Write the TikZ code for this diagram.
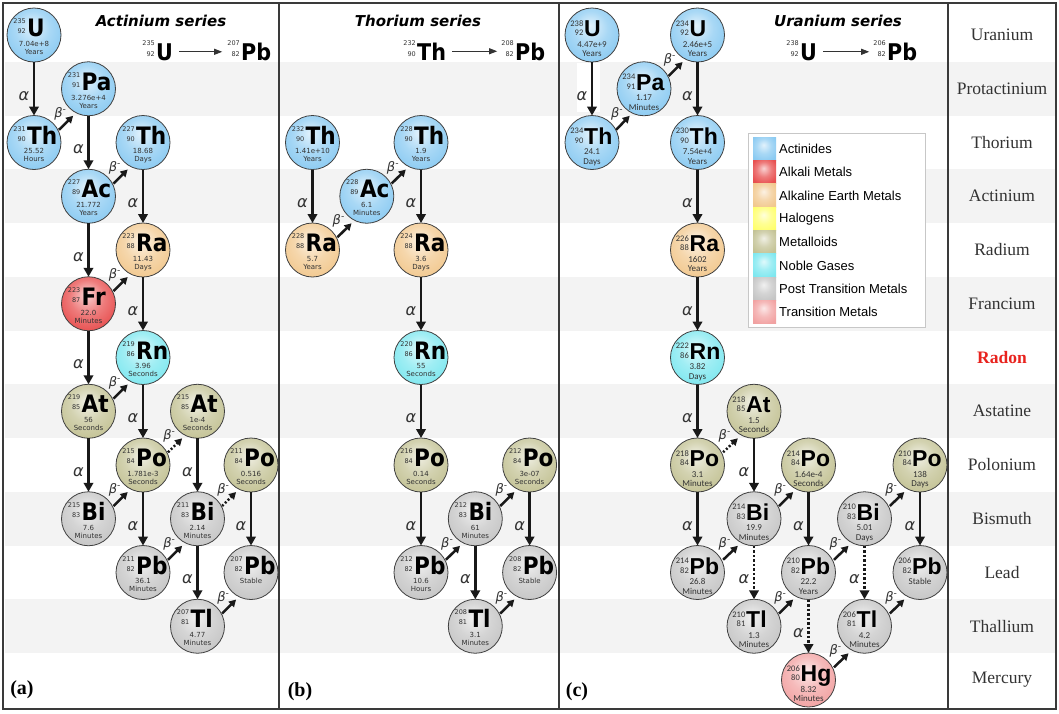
\documentclass[tikz,border=0pt]{standalone}
\usepackage{fontspec}
\usetikzlibrary{arrows.meta,calc}
\newfontfamily\dvs{DejaVu Sans}
\newfontfamily\dvsym{DejaVu Sans}[FakeStretch=0.9]
\newfontfamily\lsans{Liberation Sans}
\newfontfamily\lserif{Liberation Serif}
\newfontfamily\carl{Carlito}

\definecolor{actin}{HTML}{8CCBF2}
\definecolor{alkali}{HTML}{E85050}
\definecolor{alkearth}{HTML}{F2C990}
\definecolor{halogen}{HTML}{FFFF70}
\definecolor{metalloid}{HTML}{C4C396}
\definecolor{noble}{HTML}{80E8F0}
\definecolor{post}{HTML}{C6C6C6}
\definecolor{trans}{HTML}{F2A3A3}
\definecolor{band}{HTML}{F3F3F3}
\definecolor{framecol}{HTML}{3A3A3A}
\definecolor{txt}{HTML}{333333}
\definecolor{radred}{HTML}{E8231E}

\newcommand\mkball[1]{\pgfdeclareradialshading{ball#1}{\pgfpoint{-2bp}{9bp}}{color(0bp)=(#1!25!white); color(16bp)=(#1!75!white); color(30bp)=(#1); color(50bp)=(#1!95!black)}}
\mkball{actin}\mkball{alkali}\mkball{alkearth}\mkball{halogen}
\mkball{metalloid}\mkball{noble}\mkball{post}\mkball{trans}

\newcommand\elSX{-7}
\newcommand\elNX{-8}
\newcommand\elMY{-11.5}
\newcommand\elZY{-1.5}
\newcommand\elHY{9.5}
\newcommand\elUY{17.5}

\newcommand\elem[9]{%
  \node[elemc, shading=ball#2] (#1) at (#3,#4) {};
  \node[symf, anchor=base west] (#1s) at ($(#1)+(\elSX,1.5)$) {#7};
  \node[numf, anchor=base east] (#1z) at ($(#1)+(\elNX,\elZY)$) {#6};
  \node[numf, anchor=base east] (#1m) at ($(#1)+(\elNX,\elMY)$) {#5};
  \node[hlf] (#1h) at ($(#1)+(0,\elHY)$) {#8};
  \node[hlf] (#1u) at ($(#1)+(0,\elUY)$) {#9};
}
\newcommand\aarr[3][alph]{\draw[#1] (#2.south) -- (#3.north) node[alab, midway, xshift=-10pt, yshift=-7pt] (#2#3a) {α};}
\newcommand\barr[3][bet]{\draw[#1] ($(#2)!0.33!(#3)+(7,5)$) -- ($(#2)!0.59!(#3)+(7,5)$) node[blab, midway, xshift=-6pt, yshift=9pt] (#2#3b) {β\raisebox{5pt}{\fontsize{9}{9}\selectfont -}};}

\begin{document}
\begin{tikzpicture}[x=1pt,y=-1pt,
  elemc/.style={circle, minimum size=54pt, inner sep=0pt, outer sep=0pt, draw=black!75, line width=0.8pt, shade},
  symf/.style={font=\dvsym\bfseries\fontsize{24}{24}\selectfont, inner sep=0pt},
  numf/.style={font=\dvs\fontsize{6.5}{7}\selectfont, inner sep=0pt, text=txt},
  hlf/.style={font=\dvs\fontsize{7}{8}\selectfont, inner sep=0pt, text=txt, text height=5pt, text depth=1.5pt},
  alph/.style={line width=2.6pt, draw=black!90, -{Triangle[width=9.5pt,length=9pt]}},
  alphd/.style={alph, dash pattern=on 2.5pt off 2pt},
  alab/.style={font=\dvs\itshape\fontsize{16}{16}\selectfont, inner sep=0pt, text=black!80},
  bet/.style={line width=2.5pt, draw=black!90, -{Triangle[width=7.5pt,length=7pt]}},
  betd/.style={bet, dash pattern=on 2pt off 2pt},
  blab/.style={font=\dvs\itshape\fontsize{13}{13}\selectfont, inner sep=0pt, text=black!80},
  framel/.style={draw=framecol, line width=1.5pt},
  title/.style={font=\dvs\bfseries\itshape\fontsize{15}{15}\selectfont, inner sep=0pt},
  fsym/.style={font=\dvsym\bfseries\fontsize{23}{23}\selectfont, inner sep=0pt},
  fnum/.style={font=\dvs\fontsize{6.5}{7}\selectfont, inner sep=0pt, text=txt},
  farrow/.style={draw=txt, line width=0.9pt, -{Triangle[width=6pt,length=8pt]}},
  rowlab/.style={font=\lserif\fontsize{17.5}{17.5}\selectfont, text=txt, inner sep=0pt},
  plab/.style={font=\lserif\bfseries\fontsize{20}{20}\selectfont, inner sep=0pt},
  swatch/.style={rectangle, minimum width=23pt, minimum height=23.3pt, inner sep=0pt, shade},
  legtext/.style={font=\lsans\fontsize{13}{13}\selectfont, inner sep=0pt, anchor=west}
]
\useasboundingbox (0,0) rectangle (1059,713);
\fill[white] (0,0) rectangle (1059,713);
\foreach \i in {1,3,5,7,9,11}
  \fill[band] (4.5,{35+53.75*\i-26.875}) rectangle (1055,{35+53.75*\i+26.875});
\fill[white] (577,63) rectangle (600,112);
\draw[framel] (3,3) rectangle (1056,709);
\draw[framel] (279,3) -- (279,709);
\draw[framel] (559,3) -- (559,709);
\draw[framel] (948,3) -- (948,709);

% row labels
\node[rowlab] (l0) at (1002,35) {Uranium};
\node[rowlab] (l1) at (1002,88.75) {Protactinium};
\node[rowlab] (l2) at (1002,142.5) {Thorium};
\node[rowlab] (l3) at (1002,196.25) {Actinium};
\node[rowlab] (l4) at (1002,250) {Radium};
\node[rowlab] (l5) at (1002,303.75) {Francium};
\node[rowlab, font=\lserif\bfseries\fontsize{17.5}{17.5}\selectfont, text=radred] (l6) at (1002,357.5) {Radon};
\node[rowlab] (l7) at (1002,411.25) {Astatine};
\node[rowlab] (l8) at (1002,465) {Polonium};
\node[rowlab] (l9) at (1002,518.75) {Bismuth};
\node[rowlab] (l10) at (1002,572.5) {Lead};
\node[rowlab] (l11) at (1002,626.25) {Thallium};
\node[rowlab] (l12) at (1002,680) {Mercury};

% panel labels
\node[plab] (pa) at (22,690) {(a)};
\node[plab] (pb) at (300,692) {(b)};
\node[plab] (pc) at (577,692) {(c)};

% titles and overall decays
\node[title] (ta) at (161,21) {Actinium series};
\node[title] (tb) at (418,21) {Thorium series};
\node[title] (tc) at (838,21) {Uranium series};

\node[fsym, anchor=base west] (aF1s) at (156,60) {U};
\node[fnum, anchor=base east] (aF1z) at (155,56) {92};
\node[fnum, anchor=base east] (aF1m) at (155,45) {235};
\node[fsym, anchor=base west] (aF2s) at (241,60) {Pb};
\node[fnum, anchor=base east] (aF2z) at (240,56) {82};
\node[fnum, anchor=base east] (aF2m) at (240,45) {207};
\draw[farrow, shorten <=6pt, shorten >=5pt] (aF1s.east) -- (aF1s.east -| aF2m.west);

\node[fsym, anchor=base west] (bF1s) at (417,60) {Th};
\node[fnum, anchor=base east] (bF1z) at (416,56) {90};
\node[fnum, anchor=base east] (bF1m) at (416,45) {232};
\node[fsym, anchor=base west] (bF2s) at (515,60) {Pb};
\node[fnum, anchor=base east] (bF2z) at (514,56) {82};
\node[fnum, anchor=base east] (bF2m) at (514,45) {208};
\draw[farrow, shorten <=6pt, shorten >=4pt] (bF1s.east) -- (bF1s.east -| bF2m.west);

\node[fsym, anchor=base west] (cF1s) at (800,60) {U};
\node[fnum, anchor=base east] (cF1z) at (799,56) {92};
\node[fnum, anchor=base east] (cF1m) at (799,45) {238};
\node[fsym, anchor=base west] (cF2s) at (887,60) {Pb};
\node[fnum, anchor=base east] (cF2z) at (886,56) {82};
\node[fnum, anchor=base east] (cF2m) at (886,45) {206};
\draw[farrow, shorten <=6pt, shorten >=4pt] (cF1s.east) -- (cF1s.east -| cF2m.west);

% legend
\node[draw=black!22, line width=0.8pt, fill=white, minimum width=177pt, minimum height=194pt, inner sep=0pt, anchor=north west] (legbox) at (748,133) {};
\foreach \c/\t [count=\k from 0] in {actin/Actinides, alkali/Alkali Metals, alkearth/Alkaline Earth Metals, halogen/Halogens, metalloid/Metalloids, noble/Noble Gases, post/Post Transition Metals, trans/Transition Metals}{
  \node[swatch, shading=ball\c] (sw\k) at (764.5,{149+23.3*\k}) {};
  \node[legtext] (lt\k) at (779,{149+23.3*\k}) {\t};
}

% ---------- panel (a)
\elem{aUa}{actin}{34}{35}{235}{92}{U}{7.04e+8}{Years}
\elem{aPa}{actin}{88.5}{88.75}{231}{91}{Pa}{3.276e+4}{Years}
\elem{aTha}{actin}{34}{142.5}{231}{90}{Th}{25.52}{Hours}
\elem{aThb}{actin}{143}{142.5}{227}{90}{Th}{18.68}{Days}
\elem{aAc}{actin}{88.5}{196.25}{227}{89}{Ac}{21.772}{Years}
\elem{aRa}{alkearth}{143}{250}{223}{88}{Ra}{11.43}{Days}
\elem{aFr}{alkali}{88.5}{303.75}{223}{87}{Fr}{22.0}{Minutes}
\elem{aRn}{noble}{143}{357.5}{219}{86}{Rn}{3.96}{Seconds}
\elem{aAta}{metalloid}{88.5}{411.25}{219}{85}{At}{56}{Seconds}
\elem{aAtb}{metalloid}{197.5}{411.25}{215}{85}{At}{1e-4}{Seconds}
\elem{aPoa}{metalloid}{143}{465}{215}{84}{Po}{1.781e-3}{Seconds}
\elem{aPob}{metalloid}{251}{465}{211}{84}{Po}{0.516}{Seconds}
\elem{aBia}{post}{88.5}{518.75}{215}{83}{Bi}{7.6}{Minutes}
\elem{aBib}{post}{197.5}{518.75}{211}{83}{Bi}{2.14}{Minutes}
\elem{aPba}{post}{143}{572.5}{211}{82}{Pb}{36.1}{Minutes}
\elem{aPbb}{post}{251}{572.5}{207}{82}{Pb}{Stable}{}
\elem{aTl}{post}{197.5}{626.25}{207}{81}{Tl}{4.77}{Minutes}

\aarr{aUa}{aTha}
\aarr{aPa}{aAc}
\aarr{aThb}{aRa}
\aarr{aAc}{aFr}
\aarr{aRa}{aRn}
\aarr{aFr}{aAta}
\aarr{aRn}{aPoa}
\aarr{aAta}{aBia}
\aarr{aAtb}{aBib}
\aarr{aPoa}{aPba}
\aarr{aPob}{aPbb}
\aarr{aBib}{aTl}
\barr{aTha}{aPa}
\barr{aAc}{aThb}
\barr{aFr}{aRa}
\barr{aAta}{aRn}
\barr[betd]{aPoa}{aAtb}
\barr{aBia}{aPoa}
\barr{aPba}{aBib}
\barr[betd]{aBib}{aPob}
\barr{aTl}{aPbb}

% ---------- panel (b)
\elem{bTha}{actin}{312.5}{142.5}{232}{90}{Th}{1.41e+10}{Years}
\elem{bRaa}{alkearth}{312.5}{250}{228}{88}{Ra}{5.7}{Years}
\elem{bAc}{actin}{366.8}{196.25}{228}{89}{Ac}{6.1}{Minutes}
\elem{bThb}{actin}{421}{142.5}{228}{90}{Th}{1.9}{Years}
\elem{bRab}{alkearth}{421}{250}{224}{88}{Ra}{3.6}{Days}
\elem{bRn}{noble}{421}{357.5}{220}{86}{Rn}{55}{Seconds}
\elem{bPoa}{metalloid}{421}{465}{216}{84}{Po}{0.14}{Seconds}
\elem{bPba}{post}{421}{572.5}{212}{82}{Pb}{10.6}{Hours}
\elem{bBi}{post}{475.3}{518.75}{212}{83}{Bi}{61}{Minutes}
\elem{bPob}{metalloid}{529.6}{465}{212}{84}{Po}{3e-07}{Seconds}
\elem{bPbb}{post}{529.6}{572.5}{208}{82}{Pb}{Stable}{}
\elem{bTl}{post}{475.3}{626.25}{208}{81}{Tl}{3.1}{Minutes}

\aarr{bTha}{bRaa}
\aarr{bThb}{bRab}
\aarr{bRab}{bRn}
\aarr{bRn}{bPoa}
\aarr{bPoa}{bPba}
\aarr{bBi}{bTl}
\aarr{bPob}{bPbb}
\barr{bRaa}{bAc}
\barr{bAc}{bThb}
\barr{bPba}{bBi}
\barr{bBi}{bPob}
\barr{bTl}{bPbb}

% ---------- panel (c)
\tikzset{
  symf/.style={font=\lsans\bfseries\fontsize{23}{23}\selectfont, inner sep=0pt},
  numf/.style={font=\carl\fontsize{8.5}{8.5}\selectfont, inner sep=0pt, text=txt},
  hlf/.style={font=\carl\fontsize{9}{9}\selectfont, inner sep=0pt, text=txt, text height=6pt, text depth=1.8pt}
}
\renewcommand\elSX{-8}
\renewcommand\elNX{-8.5}
\renewcommand\elMY{-9}
\renewcommand\elZY{0.5}
\renewcommand\elHY{10}
\renewcommand\elUY{19.5}

\elem{cUa}{actin}{592}{35}{238}{92}{U}{4.47e+9}{Years}
\elem{cTha}{actin}{592}{142.5}{234}{90}{Th}{24.1}{Days}
\elem{cPa}{actin}{644}{88.75}{234}{91}{Pa}{1.17}{Minutes}
\elem{cUb}{actin}{697.5}{35}{234}{92}{U}{2.46e+5}{Years}
\elem{cThb}{actin}{697.5}{142.5}{230}{90}{Th}{7.54e+4}{Years}
\elem{cRa}{alkearth}{697.5}{250}{226}{88}{Ra}{1602}{Years}
\elem{cRn}{noble}{697.5}{357.5}{222}{86}{Rn}{3.82}{Days}
\elem{cPoa}{metalloid}{697.5}{465}{218}{84}{Po}{3.1}{Minutes}
\elem{cAt}{metalloid}{754}{411.25}{218}{85}{At}{1.5}{Seconds}
\elem{cPba}{post}{697.5}{572.5}{214}{82}{Pb}{26.8}{Minutes}
\elem{cBia}{post}{754}{518.75}{214}{83}{Bi}{19.9}{Minutes}
\elem{cPob}{metalloid}{808.5}{465}{214}{84}{Po}{1.64e-4}{Seconds}
\elem{cTla}{post}{754}{626.25}{210}{81}{Tl}{1.3}{Minutes}
\elem{cPbb}{post}{808.5}{572.5}{210}{82}{Pb}{22.2}{Years}
\elem{cHg}{trans}{808.5}{680}{206}{80}{Hg}{8.32}{Minutes}
\elem{cBib}{post}{864.5}{518.75}{210}{83}{Bi}{5.01}{Days}
\elem{cTlb}{post}{864.5}{626.25}{206}{81}{Tl}{4.2}{Minutes}
\elem{cPoc}{metalloid}{920}{465}{210}{84}{Po}{138}{Days}
\elem{cPbc}{post}{920}{572.5}{206}{82}{Pb}{Stable}{}

\aarr{cUa}{cTha}
\aarr{cUb}{cThb}
\aarr{cThb}{cRa}
\aarr{cRa}{cRn}
\aarr{cRn}{cPoa}
\aarr{cPoa}{cPba}
\aarr{cAt}{cBia}
\aarr[alphd]{cBia}{cTla}
\aarr{cPob}{cPbb}
\aarr[alphd]{cPbb}{cHg}
\aarr[alphd]{cBib}{cTlb}
\aarr{cPoc}{cPbc}
\barr{cTha}{cPa}
\barr{cPa}{cUb}
\barr[betd]{cPoa}{cAt}
\barr{cPba}{cBia}
\barr{cBia}{cPob}
\barr{cTla}{cPbb}
\barr{cPbb}{cBib}
\barr{cHg}{cTlb}
\barr{cBib}{cPoc}
\barr{cTlb}{cPbc}
\end{tikzpicture}
\end{document}
